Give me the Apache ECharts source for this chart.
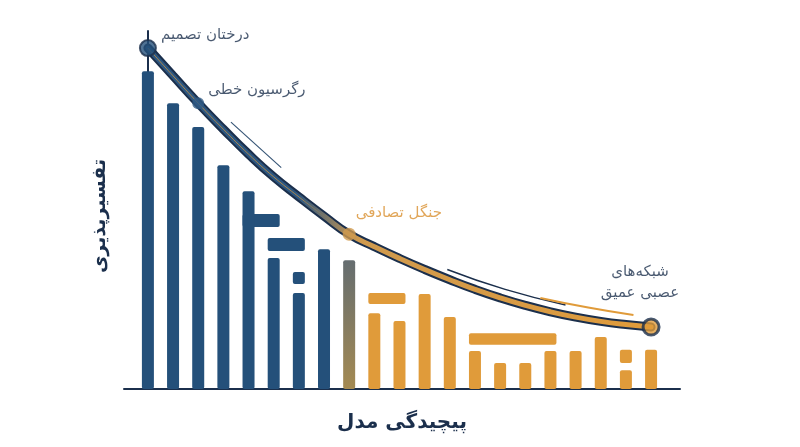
<!DOCTYPE html>
<html>
<head>
<meta charset="utf-8">
<script src="https://cdn.jsdelivr.net/npm/echarts@6/dist/echarts.min.js"></script>
<style>
  html, body { margin: 0; padding: 0; background: #ffffff; }
  #mainChart { width: 800px; height: 447px; }
</style>
</head>
<body>
<div id="mainChart"></div>
<script>
// داده‌ها
var barValues = [89.3, 80.3, 73.6, 62.9, 55.6, 36.8, 27.0, 39.3, 36.2, 21.3, 19.1, 26.7, 20.2, 10.7, 7.3, 7.3, 10.7, 10.7, 14.6, 5.3, 11.0];
// تکه‌های جدا: [from, to, low, high]
var pieceRows = [[4, 5, 45.5, 49.2], [5, 6, 38.8, 42.4], [6, 6, 29.5, 32.9], [9, 10, 23.9, 27.0], [13, 16, 12.4, 15.7], [19, 19, 7.3, 11.0]];
var trendValues = [95.8, 88.0, 80.3, 73.0, 66.0, 59.6, 54.0, 48.6, 43.5, 40.0, 36.7, 33.6, 30.7, 28.0, 25.6, 23.5, 21.7, 20.2, 19.0, 18.1, 17.4];
var modelIdx = [0, 2, 8, 20];
var modelNames = ['درختان تصمیم', 'رگرسیون خطی', 'جنگل تصادفی', 'شبکه‌های\nعصبی عمیق'];
var sketchBlue = [[3.3, 75.0], [4.3, 68.6], [5.3, 62.2]];
var sketchBlue2 = [[11.9, 33.6], [14.2, 28.0], [16.6, 23.6]];
var sketchOrange = [[15.6, 25.6], [17.5, 22.9], [19.3, 20.8]];

var NAVY = '#24507a';
var DARK = '#1b2f4c';
var ORANGE = '#e09b3a';
var FONT = 'DejaVu Sans';

function barColor(i) {
    if (i < 8) return NAVY;
    if (i == 8) {
        return new echarts.graphic.LinearGradient(0, 0, 0, 1, [
            {offset: 0, color: '#656d70'},
            {offset: 1, color: '#a48a52'}
        ]);
    }
    return ORANGE;
}

var barData = [];
for (var i = 0; i < barValues.length; i++) {
    barData.push({value: [i, barValues[i]], itemStyle: {color: barColor(i)}});
}
var trendData = [];
for (var j = 0; j < trendValues.length; j++) {
    trendData.push([j, trendValues[j]]);
}
var nodeStyles = [
    {size: 16, color: NAVY, border: DARK, bw: 2, label: DARK, pos: 'right', dist: 4, off: [0, -13], align: 'left'},
    {size: 12, color: '#2f5a84', border: '#2f5a84', bw: 0, label: DARK, pos: 'right', dist: 4, off: [0, -13], align: 'left'},
    {size: 13, color: '#cf9a4e', border: '#cf9a4e', bw: 0, label: '#d9902f', pos: 'right', dist: 2, off: [-2, -21], align: 'left'},
    {size: 16, color: ORANGE, border: DARK, bw: 3, label: DARK, pos: 'top', dist: 14, off: [-11, 0], align: 'center'}
];
var nodeData = [];
for (var k = 0; k < modelIdx.length; k++) {
    var s = nodeStyles[k];
    nodeData.push({
        value: [modelIdx[k], trendValues[modelIdx[k]]],
        name: modelNames[k],
        symbolSize: s.size,
        itemStyle: {color: s.color, borderColor: s.border, borderWidth: s.bw},
        label: {position: s.pos, distance: s.dist, offset: s.off, color: s.label, align: s.align}
    });
}

var option = {
    backgroundColor: '#ffffff',
    animation: false,
    grid: {left: 124, right: 120, top: 31, bottom: 58},
    xAxis: {
        type: 'value',
        min: -0.95,
        max: 21.15,
        name: 'پیچیدگی مدل',
        nameLocation: 'middle',
        nameGap: 24,
        nameTextStyle: {fontFamily: FONT, fontSize: 20, fontWeight: 'bold', color: DARK},
        axisLine: {show: true, lineStyle: {color: DARK, width: 2}},
        axisTick: {show: false},
        axisLabel: {show: false},
        splitLine: {show: false}
    },
    yAxis: {
        type: 'value',
        min: 0,
        max: 100.6,
        name: 'تفسیرپذیری',
        nameLocation: 'middle',
        nameGap: 14,
        nameTextStyle: {fontFamily: FONT, fontSize: 19, fontWeight: 'bold', color: DARK, padding: [0, 12, 0, 0]},
        axisLine: {show: true, lineStyle: {color: DARK, width: 2}},
        axisTick: {show: false},
        axisLabel: {show: false},
        splitLine: {show: false}
    },
    series: [
        {
            type: 'bar', barWidth: 12,
            itemStyle: {borderRadius: 2},
            data: barData
        },
        {
            type: 'custom',
            data: pieceRows,
            renderItem: function (params, api) {
                var a = api.coord([api.value(0), api.value(3)]);
                var b = api.coord([api.value(1), api.value(2)]);
                return {
                    type: 'rect',
                    shape: {x: a[0] - 6, y: a[1], width: b[0] - a[0] + 12, height: b[1] - a[1], r: 2},
                    style: {fill: api.value(0) < 8 ? NAVY : ORANGE}
                };
            }
        },
        {
            type: 'line', data: sketchBlue, smooth: true, symbol: 'none',
            lineStyle: {color: '#3a5878', width: 1.2}
        },
        {
            type: 'line', data: sketchBlue2, smooth: true, symbol: 'none',
            lineStyle: {color: DARK, width: 1.5}
        },
        {
            type: 'line', data: sketchOrange, smooth: true, symbol: 'none',
            lineStyle: {color: ORANGE, width: 2}
        },
        {
            type: 'line', data: trendData, smooth: true, symbol: 'none',
            lineStyle: {color: DARK, width: 9, cap: 'round'}
        },
        {
            type: 'line', data: trendData, smooth: true, symbol: 'none',
            lineStyle: {
                width: 5, cap: 'round',
                color: new echarts.graphic.LinearGradient(0, 0, 1, 0, [
                    {offset: 0, color: '#2c5680'},
                    {offset: 0.3, color: '#2c5680'},
                    {offset: 0.42, color: '#cf9a4e'},
                    {offset: 1, color: ORANGE}
                ])
            }
        },
        {
            // رگه‌ی نارنجی باریک روی بخش آبی
            type: 'line', data: trendData, smooth: true, symbol: 'none',
            lineStyle: {
                width: 1,
                color: new echarts.graphic.LinearGradient(0, 0, 1, 0, [
                    {offset: 0, color: 'rgba(224,155,58,0.7)'},
                    {offset: 0.3, color: 'rgba(224,155,58,0.7)'},
                    {offset: 0.36, color: 'rgba(224,155,58,0)'},
                    {offset: 1, color: 'rgba(224,155,58,0)'}
                ])
            }
        },
        {
            type: 'scatter',
            data: nodeData,
            z: 5,
            label: {
                show: true,
                formatter: '{b}',
                fontFamily: FONT,
                fontSize: 15,
                lineHeight: 21
            }
        }
    ]
};

var summaryChart = echarts.init(document.getElementById('mainChart'));
summaryChart.setOption(option);
</script>
</body>
</html>
